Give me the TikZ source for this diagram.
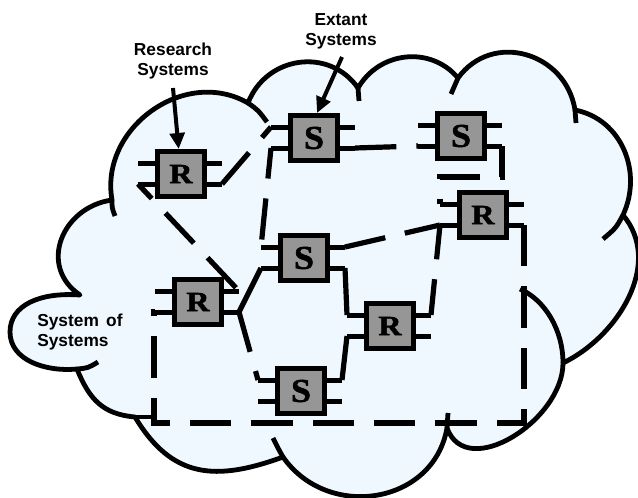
\documentclass[tikz,border=0pt]{standalone}
\usepackage{fontspec}
\usepackage{graphicx}
\setmainfont{Liberation Sans}
\newfontfamily\boxserif{Liberation Serif}[BoldFeatures={FakeBold=1.5}]
\usetikzlibrary{arrows.meta,calc}
\definecolor{cloudblue}{RGB}{239,247,255}
\definecolor{boxgray}{RGB}{150,150,150}
\tikzset{
  cloudline/.style={line width=3.6pt, fill=cloudblue, line join=round},
  stub/.style={line width=3.6pt},
  conn/.style={line width=3.9pt},
  dconn/.style={conn, dash pattern=on 31pt off 15pt},
  pinline/.style={line width=3.75pt},
  sysbox/.style={draw, line width=4.1pt, fill=boxgray, minimum width=35.6pt,
    minimum height=33.4pt, inner sep=0pt, font=\boxserif\bfseries},
  lab/.style={font=\bfseries\fontsize{13}{15}\selectfont, align=center, inner sep=0pt},
  labarrow/.style={line width=3pt, -{Triangle[length=12pt,width=11pt]}},
}
\newcommand{\LetS}{\fontsize{25}{25}\selectfont\scalebox{1.08}[1]{S}}
\newcommand{\LetR}{\fontsize{21}{21}\selectfont\scalebox{1.15}[1]{R}}
\newcommand{\mkbox}[4]{%
  \coordinate (#1-lt) at ({#2-43},{#3-11});
  \coordinate (#1-lb) at ({#2-43},{#3+10});
  \coordinate (#1-rt) at ({#2+41},{#3-11});
  \coordinate (#1-rb) at ({#2+41},{#3+10});
  \draw[pinline] (#1-lt) -- ++(20,0) (#1-lb) -- ++(20,0)
                 (#1-rt) -- ++(-20,0) (#1-rb) -- ++(-20,0);
  \node[sysbox] (#1) at (#2,#3) {#4};
}
\begin{document}
\begin{tikzpicture}[x=0.75pt, y=-0.75pt]
\useasboundingbox (0,0) rectangle (638,497);
% cloud
\draw[cloudline] (112,200)
  to[out=100,in=150,looseness=1.12] (248,103)
  to[out=69,in=125,looseness=1.16] (358,88)
  to[out=60,in=130,looseness=1.08] (458,78)
  to[out=54,in=99,looseness=1.23] (575,110)
  to[out=349,in=65,looseness=1.05] (623,215)
  to[out=310,in=26,looseness=1.0] (563,363)
  to[out=270,in=290,looseness=1.1] (447,428)
  to[out=260,in=305,looseness=1.2] (283,457)
  to[out=200,in=301,looseness=1.2] (135,417)
  to[out=175,in=292,looseness=1.1] (77,369)
  .. controls (45,372) and (10,360) .. (10,332)
  .. controls (10,305) and (40,292) .. (80,295)
  to[out=146,in=188,looseness=1.3] (112,200)
  -- cycle;
\draw[stub] (112,200) .. controls (112,208) .. (115,216);
\draw[stub] (248,103) .. controls (258,110) .. (267,122);
\draw[stub] (358,88) -- (359,101);
\draw[stub] (458,78) -- (451,94);
\draw[stub] (575,110) -- (576,123);
\draw[stub] (623,215) .. controls (616,228) .. (603,239);
\draw[stub] (563,363) .. controls (563,330) and (545,300) .. (520,289);
\draw[stub] (447,428) -- (448,413);
\draw[stub] (283,457) .. controls (279,450) .. (273,438);
\draw[stub] (135,417) -- (153,417);
\draw[stub] (77,369) .. controls (88,368) .. (98,362);
% boxes
\mkbox{r1}{181}{174}{\LetR}
\mkbox{s1}{314}{138}{\LetS}
\mkbox{s2}{461}{136}{\LetS}
\mkbox{r3}{483}{215}{\LetR}
\mkbox{s3}{304}{258}{\LetS}
\mkbox{r2}{198}{302}{\LetR}
\mkbox{r4}{390}{326}{\LetR}
\mkbox{s4}{301}{391}{\LetS}
% connectors
\coordinate (cbl) at (154,423);
\draw[dconn] (r1-rb) -- (s1-lt);
\draw[dconn] (s1-rb) -- (s2-lb);
\draw[dconn, dash phase=6pt] (s2-rb) -- ++(0,31) -| (r3-lt);
\draw[dconn, dash phase=16pt] (r1-lb) -- (r2-rt);
\draw[dconn, dash phase=8pt] (s1-lb) -- (s3-lt);
\draw[dconn] (s3-rt) -- (r3-lb);
\draw[conn] (s3-rb) -- (r4-lt);
\draw[dconn, dash phase=4pt] (r4-rt) -- (r3-lb);
\draw[conn] (r4-lb) -- (s4-rt);
\draw[conn] (r2-rb) -- (s3-lb);
\draw[dconn] (r2-rb) -- (s4-lt);
\draw[dconn] (r3-rb) |- (cbl) |- (r2-lb);
% labels
\node[lab] (labres) at (173,61.5) {Research\\Systems};
\node[lab] (labext) at (341,31.5) {Extant\\Systems};
\node[lab, align=left, anchor=west] (labsos) at (37,332) {System\hspace{0.42em}of\\Systems};
\coordinate (restail) at (173,88);
\coordinate (exttail) at (342,57);
\draw[labarrow] (restail) -- (r1);
\draw[labarrow] (exttail) -- ([xshift=2.25pt]s1.north);
\end{tikzpicture}
\end{document}
